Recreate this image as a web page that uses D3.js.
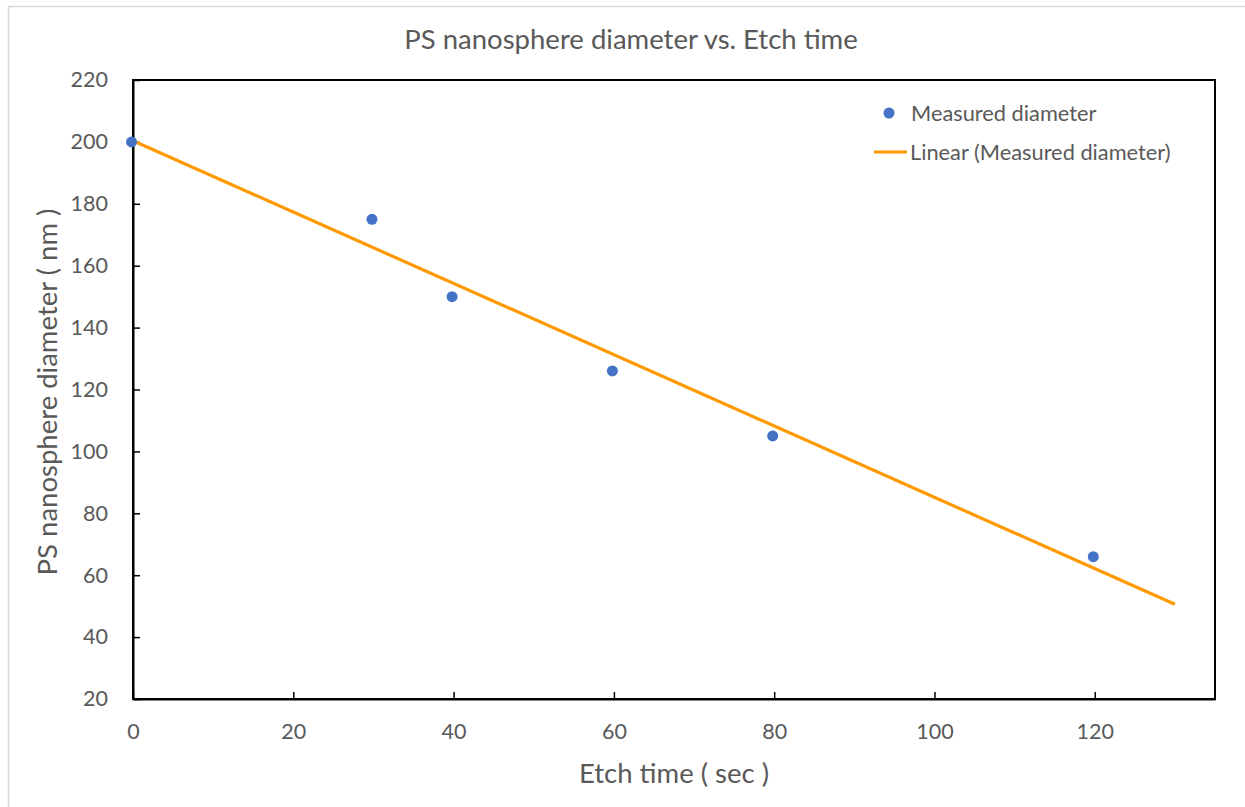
<!DOCTYPE html>
<html>
<head>
<meta charset="utf-8">
<script src="https://cdn.jsdelivr.net/npm/d3@7"></script>
<style>
  html, body { margin: 0; padding: 0; background: #fff; }
  svg { display: block; }
  text { font-family: Lato, "Open Sans", sans-serif; fill: #595959; }
</style>
</head>
<body>
<svg id="chart" width="1245" height="807"></svg>
<script>
// Etch time (s) and measured PS nanosphere diameter (nm)
const etchTime = [0, 30, 40, 60, 80, 120];
const diameter = [200, 175, 150, 126, 105, 66];
const xTicks = [0, 20, 40, 60, 80, 100, 120];
const yTicks = [20, 40, 60, 80, 100, 120, 140, 160, 180, 200, 220];
const trendEnd = 130;   // linear trend extended forward to this time

const svg = d3.select("#chart");
const plot = { left: 133, top: 80, right: 1215, bottom: 699 };

const x = d3.scaleLinear().domain([0, 135]).range([plot.left, plot.right]);
const y = d3.scaleLinear().domain([20, 220]).range([plot.bottom, plot.top]);

// chart frame
svg.append("rect")
  .attr("x", 8.5).attr("y", 6.5).attr("width", 1300).attr("height", 900)
  .attr("fill", "#fff").attr("stroke", "#d9d9d9").attr("stroke-width", 1.5);

// plot area box
svg.append("rect")
  .attr("x", plot.left).attr("y", plot.top)
  .attr("width", plot.right - plot.left).attr("height", plot.bottom - plot.top)
  .attr("fill", "none").attr("stroke", "#000").attr("stroke-width", 2);

// axes with inward ticks
const xAxis = svg.append("g")
  .attr("transform", `translate(0,${plot.bottom})`)
  .call(d3.axisBottom(x).tickValues(xTicks).tickSize(-7).tickPadding(25).tickSizeOuter(0));
const yAxis = svg.append("g")
  .attr("transform", `translate(${plot.left},0)`)
  .call(d3.axisLeft(y).tickValues(yTicks).tickSize(-7).tickPadding(25).tickSizeOuter(0));

[xAxis, yAxis].forEach(g => {
  g.select(".domain").attr("stroke", "#000").attr("stroke-width", 2);
  g.selectAll(".tick line").attr("stroke", "#000").attr("stroke-width", 1.5);
  g.selectAll(".tick text")
    .attr("font-family", "Lato, 'Open Sans', sans-serif")
    .attr("font-size", 21.5).attr("fill", "#595959");
});

// least-squares trend line
const mx = d3.mean(etchTime), my = d3.mean(diameter);
const slope = d3.sum(etchTime, (t, i) => (t - mx) * (diameter[i] - my)) /
              d3.sum(etchTime, t => (t - mx) * (t - mx));
const intercept = my - slope * mx;
const trend = [0, trendEnd].map(t => [t, intercept + slope * t]);

svg.append("path")
  .datum(trend)
  .attr("d", d3.line().x(d => x(d[0])).y(d => y(d[1])))
  .attr("fill", "none").attr("stroke", "#FF9900").attr("stroke-width", 3.2);

// measured points
svg.append("g").selectAll("circle")
  .data(etchTime.map((t, i) => [t, diameter[i]]))
  .join("circle")
  .attr("cx", d => x(d[0]) - 1.5).attr("cy", d => y(d[1]))
  .attr("r", 5.5).attr("fill", "#4472C4");

// title
svg.append("text")
  .attr("x", 631).attr("y", 49).attr("text-anchor", "middle")
  .attr("font-size", 27.5).text("PS nanosphere diameter vs. Etch time");

// axis titles
svg.append("text")
  .attr("x", 674).attr("y", 783).attr("text-anchor", "middle")
  .attr("font-size", 27.5).text("Etch time ( sec )");
svg.append("text")
  .attr("transform", "translate(57,392) rotate(-90)")
  .attr("text-anchor", "middle")
  .attr("font-size", 27.5).text("PS nanosphere diameter ( nm )");

// legend
const legend = svg.append("g");
legend.append("circle").attr("cx", 889).attr("cy", 113).attr("r", 5.5).attr("fill", "#4472C4");
legend.append("text").attr("x", 911).attr("y", 121).attr("font-size", 21.8).text("Measured diameter");
legend.append("line").attr("x1", 874).attr("x2", 907).attr("y1", 152).attr("y2", 152)
  .attr("stroke", "#FF9900").attr("stroke-width", 3);
legend.append("text").attr("x", 910).attr("y", 160).attr("font-size", 21.8).text("Linear (Measured diameter)");
</script>
</body>
</html>
